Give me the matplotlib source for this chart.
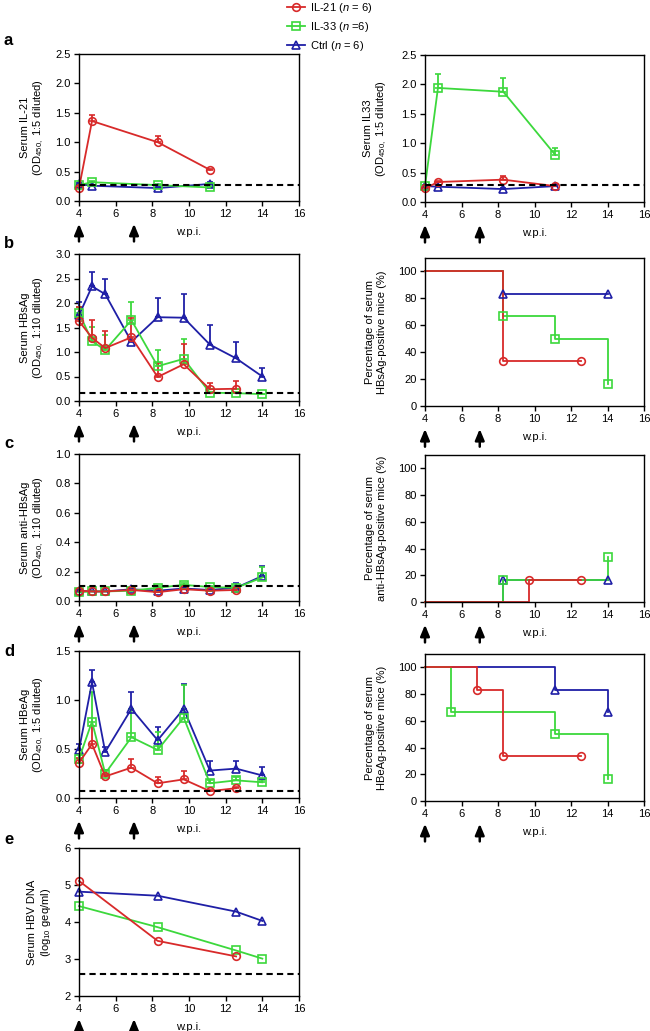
import numpy as np
import matplotlib
matplotlib.use('Agg')
import matplotlib.pyplot as plt

plt.rcParams['font.family'] = ['Liberation Sans', 'DejaVu Sans']
plt.rcParams['mathtext.fontset'] = 'custom'
plt.rcParams['mathtext.rm'] = 'Liberation Sans'
plt.rcParams['mathtext.it'] = 'Liberation Sans:italic'
plt.rcParams['font.size'] = 8
plt.rcParams['axes.linewidth'] = 1.0

# weeks post infection
weeks = [4, 4.71, 5.43, 6.86, 8.29, 9.71, 11.14, 12.57, 14]
weeks_a = [4, 4.71, 8.29, 11.14]
weeks_e = [4, 8.29, 12.57, 14]
xticks = [4, 6, 8, 10, 12, 14, 16]
arrow_weeks = [4, 7]

groups = ['Ctrl', 'IL-33', 'IL-21']          # draw order (IL-21 on top)
legend_order = ['IL-21', 'IL-33', 'Ctrl']
legend_labels = {'IL-21': 'IL-21 ($n$ = 6)', 'IL-33': 'IL-33 ($n$ =6)', 'Ctrl': 'Ctrl ($n$ = 6)'}
colors = {'IL-21': '#d82a2a', 'IL-33': '#3cd83c', 'Ctrl': '#1f1fa6'}
markers = {'IL-21': 'o', 'IL-33': 's', 'Ctrl': '^'}

# a, serum IL-21
il21_mean = {'IL-21': [0.22, 1.36, 1.00, 0.53], 'IL-33': [0.27, 0.32, 0.27, 0.23], 'Ctrl': [0.29, 0.26, 0.22, 0.29]}
il21_err = {'IL-21': [0.02, 0.11, 0.10, 0.02], 'IL-33': [0.02, 0.02, 0.02, 0.02], 'Ctrl': [0.02, 0.01, 0.01, 0.03]}
il21_cut = 0.27

# a, serum IL33
il33_mean = {'IL-21': [0.23, 0.34, 0.38, 0.27], 'IL-33': [0.27, 1.94, 1.875, 0.80], 'Ctrl': [0.27, 0.26, 0.22, 0.27]}
il33_err = {'IL-21': [0.02, 0.02, 0.07, 0.02], 'IL-33': [0.02, 0.23, 0.24, 0.12], 'Ctrl': [0.02, 0.01, 0.01, 0.02]}
il33_cut = 0.295

# b, serum HBsAg
hbsag_mean = {'IL-21': [1.63, 1.29, 1.08, 1.30, 0.49, 0.75, 0.24, 0.25],
              'IL-33': [1.80, 1.22, 1.04, 1.65, 0.71, 0.86, 0.17, 0.16, 0.14],
              'Ctrl': [1.75, 2.34, 2.18, 1.21, 1.71, 1.70, 1.15, 0.87, 0.50]}
hbsag_err = {'IL-21': [0.29, 0.36, 0.35, 0.39, 0.29, 0.41, 0.13, 0.15],
             'IL-33': [0.12, 0.30, 0.30, 0.38, 0.33, 0.41, 0.02, 0.02, 0.01],
             'Ctrl': [0.27, 0.29, 0.31, 0.03, 0.39, 0.48, 0.40, 0.33, 0.18]}
hbsag_cut = 0.16

# c, serum anti-HBsAg
anti_mean = {'IL-21': [0.07, 0.065, 0.065, 0.075, 0.06, 0.08, 0.07, 0.075],
             'IL-33': [0.06, 0.065, 0.065, 0.07, 0.09, 0.11, 0.095, 0.09, 0.16],
             'Ctrl': [0.07, 0.065, 0.065, 0.08, 0.07, 0.085, 0.075, 0.09, 0.17]}
anti_err = {'IL-21': [0.005, 0.005, 0.005, 0.005, 0.005, 0.005, 0.005, 0.005],
            'IL-33': [0.005, 0.005, 0.005, 0.01, 0.01, 0.01, 0.01, 0.01, 0.07],
            'Ctrl': [0.005, 0.005, 0.005, 0.01, 0.01, 0.01, 0.01, 0.035, 0.065]}
anti_cut = 0.105

# d, serum HBeAg
hbeag_mean = {'IL-21': [0.36, 0.55, 0.22, 0.31, 0.15, 0.19, 0.07, 0.10],
              'IL-33': [0.40, 0.78, 0.25, 0.62, 0.49, 0.82, 0.15, 0.18, 0.16],
              'Ctrl': [0.49, 1.18, 0.47, 0.91, 0.59, 0.91, 0.28, 0.30, 0.23]}
hbeag_err = {'IL-21': [0.05, 0.18, 0.03, 0.09, 0.06, 0.09, 0.01, 0.01],
             'IL-33': [0.05, 0.30, 0.04, 0.29, 0.18, 0.33, 0.03, 0.03, 0.02],
             'Ctrl': [0.06, 0.13, 0.05, 0.17, 0.13, 0.25, 0.10, 0.075, 0.09]}
hbeag_cut = 0.072

# e, serum HBV DNA (log10 geq/ml)
dna_mean = {'IL-21': [5.11, 3.49, 3.07], 'IL-33': [4.43, 3.86, 3.23, 3.01], 'Ctrl': [4.82, 4.71, 4.28, 4.03]}
dna_cut = 2.59

# percentage of positive mice (step curves)
hbsag_pos_t = {'Ctrl': [4, 8.29, 14], 'IL-33': [4, 8.29, 11.14, 14], 'IL-21': [4, 8.29, 12.57]}
hbsag_pos_p = {'Ctrl': [100, 83.3, 83.3], 'IL-33': [100, 66.7, 50, 16.7], 'IL-21': [100, 33.3, 33.3]}
anti_pos_t = {'Ctrl': [4, 8.29, 14], 'IL-33': [4, 8.29, 14], 'IL-21': [4, 9.71, 12.57]}
anti_pos_p = {'Ctrl': [0, 16.7, 16.7], 'IL-33': [0, 16.7, 33.3], 'IL-21': [0, 16.7, 16.7]}
hbeag_pos_t = {'Ctrl': [4, 11.14, 14], 'IL-33': [4, 5.43, 11.14, 14], 'IL-21': [4, 6.86, 8.29, 12.57]}
hbeag_pos_p = {'Ctrl': [100, 83.3, 66.7], 'IL-33': [100, 66.7, 50, 16.7], 'IL-21': [100, 83.3, 33.3, 33.3]}

W, H = 650, 1031
fig = plt.figure(figsize=(6.5, 10.31), dpi=100)


def make_ax(x0, x1, y0, y1):
    return fig.add_axes([x0 / W, 1 - y1 / H, (x1 - x0) / W, (y1 - y0) / H])


def style(ax, ylim, yticks, fmt, ylabel, labx):
    ax.set_xlim(4, 16)
    ax.set_xticks(xticks)
    ax.set_ylim(*ylim)
    ax.set_yticks(yticks)
    ax.set_yticklabels([fmt.format(v) for v in yticks])
    ax.tick_params(direction='out', length=3.5, width=1, pad=2.5, labelsize=8)
    ax.set_ylabel(ylabel, linespacing=1.15)
    ax.yaxis.set_label_coords(labx, 0.5)
    ax.set_xlabel('w.p.i.')
    ax.xaxis.set_label_coords(0.5, -0.175)
    for xa in arrow_weeks:
        ax.annotate('', xy=(xa, -0.155), xytext=(xa, -0.275),
                    xycoords=('data', 'axes fraction'), annotation_clip=False,
                    arrowprops=dict(arrowstyle='-|>,head_width=0.25,head_length=0.6',
                                    color='k', lw=1.8, shrinkA=0, shrinkB=0, mutation_scale=11))
    # keep markers at the axis edge whole
    for art in ax.lines + ax.collections:
        art.set_clip_on(False)


def series(ax, x, mean, err, cut):
    for g in groups:
        y = mean[g]
        xs = x[:len(y)]
        if err is None:
            ax.plot(xs, y, color=colors[g], marker=markers[g], mfc='none', mec=colors[g],
                    ms=5.5, mew=1.2, lw=1.3)
        else:
            e = err[g]
            ax.errorbar(xs, y, yerr=[np.zeros(len(e)), e], color=colors[g], marker=markers[g],
                        mfc='none', mec=colors[g], ms=5.5, mew=1.2, lw=1.3,
                        capsize=2.5, capthick=1.3, elinewidth=1.3)
    ax.axhline(cut, color='k', ls=(0, (3, 2)), lw=1.5, zorder=5)


def steps(ax, tt, pp):
    for g in groups:
        ax.plot(tt[g], pp[g], drawstyle='steps-post', color=colors[g], lw=1.3)
    for g in groups:
        ax.plot(tt[g][1:], pp[g][1:], ls='none', marker=markers[g], mfc='none',
                mec=colors[g], ms=5.5, mew=1.2, zorder=4)


LX0, LX1 = 79, 299
RX0, RX1 = 425, 644
pct_ticks = [0, 20, 40, 60, 80, 100]

# row a
ax = make_ax(LX0, LX1, 54, 201)
series(ax, weeks_a, il21_mean, il21_err, il21_cut)
style(ax, (0, 2.5), [0, 0.5, 1.0, 1.5, 2.0, 2.5], '{:.1f}', 'Serum IL-21\n(OD$_{450,}$ 1:5 diluted)', -0.15)
ax = make_ax(RX0, RX1, 55, 202)
series(ax, weeks_a, il33_mean, il33_err, il33_cut)
style(ax, (0, 2.5), [0, 0.5, 1.0, 1.5, 2.0, 2.5], '{:.1f}', 'Serum IL33\n(OD$_{450,}$ 1:5 diluted)', -0.165)

# row b
ax = make_ax(LX0, LX1, 254, 401)
series(ax, weeks, hbsag_mean, hbsag_err, hbsag_cut)
style(ax, (0, 3.0), [0, 0.5, 1.0, 1.5, 2.0, 2.5, 3.0], '{:.1f}', 'Serum HBsAg\n(OD$_{450,}$ 1:10 diluted)', -0.15)
ax = make_ax(RX0, RX1, 258, 406)
steps(ax, hbsag_pos_t, hbsag_pos_p)
style(ax, (0, 110), pct_ticks, '{:d}', 'Percentage of serum\nHBsAg-positive mice (%)', -0.175)

# row c
ax = make_ax(LX0, LX1, 454, 601)
series(ax, weeks, anti_mean, anti_err, anti_cut)
style(ax, (0, 1.0), [0, 0.2, 0.4, 0.6, 0.8, 1.0], '{:.1f}', 'Serum anti-HBsAg\n(OD$_{450,}$ 1:10 diluted)', -0.15)
ax = make_ax(RX0, RX1, 455, 602)
steps(ax, anti_pos_t, anti_pos_p)
style(ax, (0, 110), pct_ticks, '{:d}', 'Percentage of serum\nanti-HBsAg-positive mice (%)', -0.175)

# row d
ax = make_ax(LX0, LX1, 651, 798)
series(ax, weeks, hbeag_mean, hbeag_err, hbeag_cut)
style(ax, (0, 1.5), [0, 0.5, 1.0, 1.5], '{:.1f}', 'Serum HBeAg\n(OD$_{450,}$ 1:5 diluted)', -0.15)
ax = make_ax(RX0, RX1, 654, 801)
steps(ax, hbeag_pos_t, hbeag_pos_p)
style(ax, (0, 110), pct_ticks, '{:d}', 'Percentage of serum\nHBeAg-positive mice (%)', -0.175)

# row e
ax = make_ax(LX0, LX1, 848, 996)
dna_x = {'IL-21': [4, 8.29, 12.57], 'IL-33': weeks_e, 'Ctrl': weeks_e}
for g in groups:
    ax.plot(dna_x[g], dna_mean[g], color=colors[g], marker=markers[g], mfc='none',
            mec=colors[g], ms=5.5, mew=1.2, lw=1.3)
ax.axhline(dna_cut, color='k', ls=(0, (3, 2)), lw=1.5)
style(ax, (2, 6), [2, 3, 4, 5, 6], '{:d}', 'Serum HBV DNA\n(log$_{10}$ geq/ml)', -0.12)

# panel letters
for letter, yy in [('a', 40), ('b', 244), ('c', 444), ('d', 652), ('e', 840)]:
    fig.text(4 / W, 1 - yy / H, letter, fontsize=12, fontweight='bold', va='center', ha='left')

# legend
handles = [plt.Line2D([], [], color=colors[g], marker=markers[g], mfc='none', mec=colors[g],
                      ms=5.5, mew=1.2, lw=1.3) for g in legend_order]
fig.legend(handles, [legend_labels[g] for g in legend_order], loc='upper left',
           bbox_to_anchor=(286 / W, 1 - 0 / H), frameon=False, fontsize=8,
           handlelength=1.6, handletextpad=0.5, labelspacing=0.45, borderpad=0.1, borderaxespad=0)

fig.savefig('out.png', dpi=100)
